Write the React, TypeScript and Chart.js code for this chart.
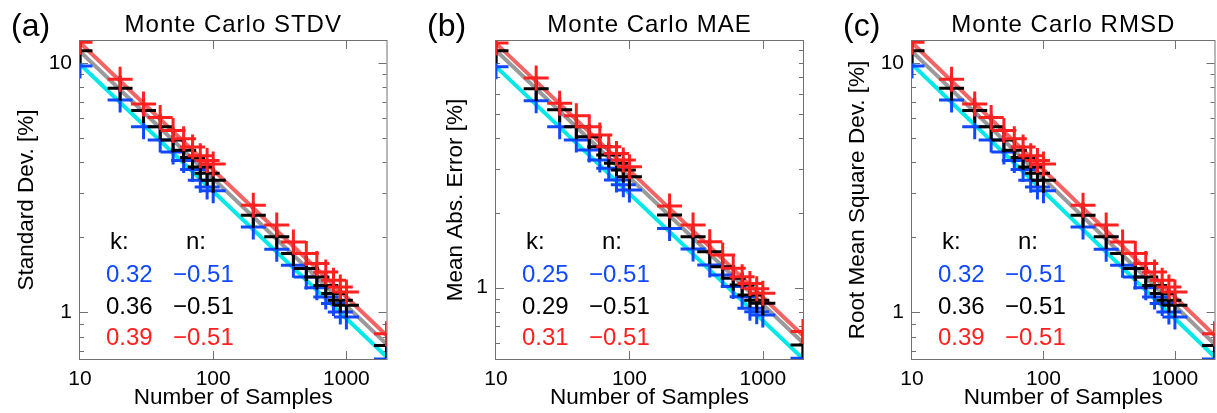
import React, { useEffect, useRef } from "react";
import { Chart, registerables } from "chart.js";

Chart.register(...registerables);

// ---------------- data ----------------
const sampleSizes = [10, 20, 30, 40, 50, 60, 70, 80, 90, 100, 200, 300, 400, 500, 600, 700, 800, 900, 1000, 2000];
const xTickValues = [10, 100, 1000];
const yTickValues = [1, 10];

// (a) Monte Carlo STDV [%]
const stdvBlue = [9.72, 7.11, 5.55, 4.91, 4.4, 4.06, 3.74, 3.39, 3.18, 3.07, 2.2, 1.79, 1.545, 1.386, 1.256, 1.152, 1.084, 1.003, 0.957, 0.65];
const stdvBlack = [11.2, 7.91, 6.45, 5.55, 4.91, 4.47, 4.18, 3.83, 3.61, 3.39, 2.45, 2.01, 1.72, 1.5, 1.386, 1.28, 1.189, 1.117, 1.067, 0.737];
const stdvRed = [12.1, 8.6, 6.85, 6.05, 5.36, 4.97, 4.6, 4.25, 4.06, 3.93, 2.69, 2.24, 1.915, 1.72, 1.57, 1.45, 1.345, 1.264, 1.206, 0.821];

// (b) Monte Carlo MAE [%]
const maeBlue = [7.71, 5.63, 4.43, 3.92, 3.57, 3.26, 3.02, 2.71, 2.59, 2.47, 1.73, 1.43, 1.233, 1.125, 1.01, 0.92, 0.826, 0.8, 0.777, 0.52];
const maeBlack = [8.94, 6.29, 5.18, 4.43, 4.04, 3.68, 3.41, 3.16, 2.97, 2.79, 1.96, 1.6, 1.395, 1.214, 1.09, 1.025, 0.935, 0.89, 0.866, 0.589];
const maeRed = [9.6, 6.95, 5.5, 4.9, 4.43, 4.1, 3.68, 3.46, 3.26, 3.06, 2.13, 1.786, 1.53, 1.353, 1.196, 1.107, 1.04, 0.99, 0.95, 0.666];

// (c) Monte Carlo RMSD [%]
const rmsdBlue = [9.72, 7.11, 5.55, 4.91, 4.4, 4.06, 3.74, 3.39, 3.18, 3.07, 2.2, 1.79, 1.545, 1.386, 1.256, 1.152, 1.084, 1.003, 0.957, 0.65];
const rmsdBlack = [11.2, 7.91, 6.45, 5.55, 4.91, 4.47, 4.18, 3.83, 3.61, 3.39, 2.45, 2.01, 1.72, 1.5, 1.386, 1.28, 1.189, 1.117, 1.067, 0.737];
const rmsdRed = [12.1, 8.6, 6.85, 6.05, 5.36, 4.97, 4.6, 4.25, 4.06, 3.93, 2.69, 2.24, 1.915, 1.72, 1.57, 1.45, 1.345, 1.264, 1.206, 0.821];

// fit parameters (y = k * x^n, shown in %)
const stdvK = [0.32, 0.36, 0.39];
const stdvN = [-0.51, -0.51, -0.51];
const maeK = [0.25, 0.29, 0.31];
const maeN = [-0.51, -0.51, -0.51];
const rmsdK = [0.32, 0.36, 0.39];
const rmsdN = [-0.51, -0.51, -0.51];

// ---------------- styles ----------------
const FONT = "'Liberation Sans', Arial, sans-serif";
const markerColors = ["#1048ff", "#000000", "#ff2020"];
const lineColors = ["#00e8e8", "#9a9a9a", "#f06464"];
const textColors = ["#1048ff", "#000000", "#ff2020"];

type Panel = {
  L: number; W: number; PL: number; PR: number;
  title: string; letter: string; letterX: number;
  yTitle: string; yTitleX: number;
  yMin: number; yMax: number;
  k: number[]; n: number[];
  series: number[][];
};

const panels: Panel[] = [
  { L: 0, W: 410, PL: 80, PR: 386.5, title: "Monte Carlo STDV", letter: "(a)", letterX: 11, yTitle: "Standard Dev. [%]", yTitleX: 27, yMin: 0.65, yMax: 12.25, k: stdvK, n: stdvN, series: [stdvBlue, stdvBlack, stdvRed] },
  { L: 410, W: 410, PL: 496, PR: 803, title: "Monte Carlo MAE", letter: "(b)", letterX: 427, yTitle: "Mean Abs. Error [%]", yTitleX: 456, yMin: 0.517, yMax: 9.79, k: maeK, n: maeN, series: [maeBlue, maeBlack, maeRed] },
  { L: 820, W: 410, PL: 912, PR: 1219, title: "Monte Carlo RMSD", letter: "(c)", letterX: 843, yTitle: "Root Mean Square Dev. [%]", yTitleX: 858, yMin: 0.65, yMax: 12.25, k: rmsdK, n: rmsdN, series: [rmsdBlue, rmsdBlack, rmsdRed] },
];

const decoPlugin = {
  id: "deco",
  beforeDatasetsDraw(chart: any) {
    const { ctx, chartArea: ca, scales } = chart;
    const xs = scales.x, ys = scales.y;
    ctx.save();
    ctx.strokeStyle = "#707070";
    ctx.lineWidth = 1;
    ctx.strokeRect(ca.left - 0.5, ca.top - 0.5, ca.right - ca.left + 1, ca.bottom - ca.top + 1);
    ctx.beginPath();
    for (const v of xTickValues) {
      if (v <= xs.min || v >= xs.max) continue;
      const px = Math.round(xs.getPixelForValue(v)) + 0.5;
      ctx.moveTo(px, ca.bottom); ctx.lineTo(px, ca.bottom - 8);
      ctx.moveTo(px, ca.top); ctx.lineTo(px, ca.top + 8);
    }
    const e0 = Math.floor(Math.log10(ys.min));
    const e1 = Math.ceil(Math.log10(ys.max));
    for (let e = e0; e <= e1; e++) {
      for (let d = 1; d < 10; d++) {
        const v = d * Math.pow(10, e);
        if (v < ys.min || v > ys.max) continue;
        const len = d === 1 ? 8 : 4;
        const py = Math.round(ys.getPixelForValue(v)) + 0.5;
        ctx.moveTo(ca.left, py); ctx.lineTo(ca.left + len, py);
        ctx.moveTo(ca.right, py); ctx.lineTo(ca.right - len, py);
      }
    }
    ctx.stroke();
    ctx.restore();
  },
  afterDraw(chart: any, _args: any, opts: any) {
    const p: Panel = opts.panel;
    const { ctx, chartArea: ca } = chart;
    const L = p.L;
    ctx.save();
    ctx.fillStyle = "#000";
    ctx.textBaseline = "alphabetic";
    // title
    ctx.font = `24px ${FONT}`;
    try { (ctx as any).letterSpacing = "1px"; } catch (e) {}
    ctx.textAlign = "center";
    ctx.fillText(p.title, (ca.left + ca.right) / 2, 32);
    try { (ctx as any).letterSpacing = "0px"; } catch (e) {}
    // panel letter
    ctx.font = `32px ${FONT}`;
    ctx.textAlign = "left";
    ctx.fillText(p.letter, p.letterX - L, 36);
    // x title
    ctx.font = `22.5px ${FONT}`;
    ctx.textAlign = "center";
    ctx.fillText("Number of Samples", (ca.left + ca.right) / 2, 404);
    // y title
    ctx.save();
    ctx.translate(p.yTitleX - L, (ca.top + ca.bottom) / 2);
    ctx.rotate(-Math.PI / 2);
    ctx.textBaseline = "middle";
    ctx.fillText(p.yTitle, 0, 0);
    ctx.restore();
    // k / n annotations
    ctx.font = `24px ${FONT}`;
    ctx.textAlign = "left";
    ctx.fillStyle = "#000";
    ctx.fillText("k:", ca.left + 30, 249);
    ctx.fillText("n:", ca.left + 106, 249);
    const rows = [282, 313.5, 345];
    for (let i = 0; i < 3; i++) {
      ctx.fillStyle = textColors[i];
      ctx.fillText(p.k[i].toFixed(2), ca.left + 26, rows[i]);
      ctx.fillText((p.n[i] < 0 ? "\u2212" : "") + Math.abs(p.n[i]).toFixed(2), ca.left + 93, rows[i]);
    }
    ctx.restore();
  },
};

function PanelChart({ p }: { p: Panel }) {
  const ref = useRef<HTMLCanvasElement | null>(null);
  useEffect(() => {
    if (!ref.current) return;
    const x0 = sampleSizes[0];
    const x1 = sampleSizes[sampleSizes.length - 1];
    const markerSets = [2, 1, 0].map((i, idx) => ({
      type: "line",
      data: sampleSizes.map((x, j) => ({ x, y: p.series[i][j] })),
      showLine: false,
      pointStyle: "cross",
      pointRadius: 12.5,
      pointHoverRadius: 12.5,
      pointBorderWidth: 3,
      borderColor: markerColors[i],
      pointBorderColor: markerColors[i],
      backgroundColor: markerColors[i],
      order: idx,
      clip: 0,
    }));
    const lineSets = [2, 1, 0].map((i, idx) => ({
      type: "line",
      data: [
        { x: x0, y: 100 * p.k[i] * Math.pow(x0, p.n[i]) },
        { x: x1, y: 100 * p.k[i] * Math.pow(x1, p.n[i]) },
      ],
      borderColor: lineColors[i],
      borderWidth: 4,
      pointRadius: 0,
      fill: false,
      order: 3 + idx,
      clip: 0,
    }));
    const tickFont = { family: FONT, size: 21 };
    const chart = new Chart(ref.current, {
      type: "line",
      data: { datasets: [...markerSets, ...lineSets] as any },
      options: {
        animation: false,
        responsive: false,
        maintainAspectRatio: false,
        parsing: false as any,
        layout: { padding: { top: 41, bottom: 0, left: 0, right: p.W - (p.PR - p.L) } },
        plugins: {
          legend: { display: false },
          tooltip: { enabled: false },
          title: { display: false },
          deco: { panel: p },
        } as any,
        scales: {
          x: {
            type: "logarithmic",
            min: x0,
            max: x1,
            bounds: "data",
            grid: { display: false, drawTicks: false },
            border: { display: false },
            ticks: { font: tickFont, color: "#000", padding: 8, maxRotation: 0, autoSkip: false, callback: (v: any) => String(v) },
            afterBuildTicks: (s: any) => { s.ticks = xTickValues.map((v) => ({ value: v })); },
            afterFit: (s: any) => { s.height = 413 - 359; },
          },
          y: {
            type: "logarithmic",
            min: p.yMin,
            max: p.yMax,
            bounds: "data",
            grid: { display: false, drawTicks: false },
            border: { display: false },
            ticks: { font: tickFont, color: "#000", padding: 8, autoSkip: false, callback: (v: any) => String(v) },
            afterBuildTicks: (s: any) => { s.ticks = yTickValues.filter((v) => v >= p.yMin && v <= p.yMax).map((v) => ({ value: v })); },
            afterFit: (s: any) => { s.width = p.PL - p.L; },
          },
        } as any,
      },
      plugins: [decoPlugin as any],
    });
    return () => chart.destroy();
  }, [p]);
  return (
    <canvas
      ref={ref}
      width={p.W}
      height={413}
      style={{ position: "absolute", left: p.L, top: 0, width: p.W, height: 413 }}
    />
  );
}

export default function App() {
  return (
    <div style={{ position: "fixed", left: 0, top: 0, width: 1217, height: 413, overflow: "hidden", background: "#fff" }}>
      {panels.map((p) => (
        <PanelChart key={p.letter} p={p} />
      ))}
    </div>
  );
}
